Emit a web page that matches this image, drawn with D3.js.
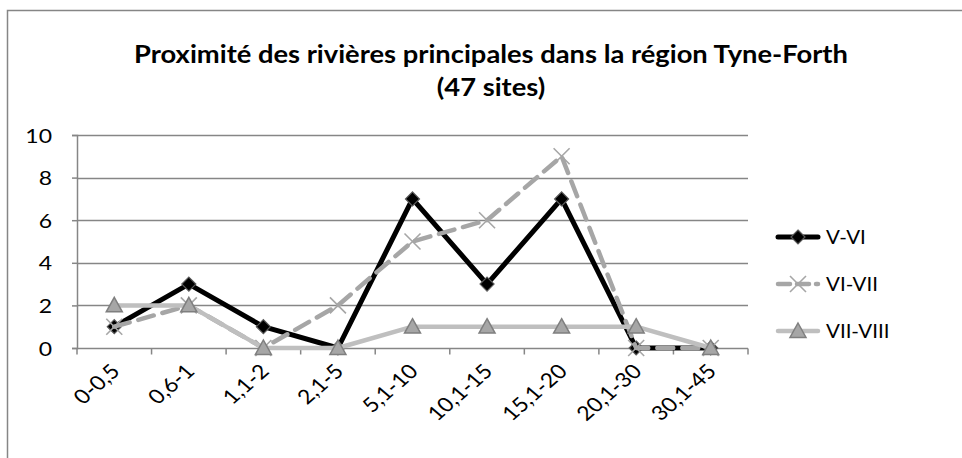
<!DOCTYPE html>
<html>
<head>
<meta charset="utf-8">
<script src="https://cdn.jsdelivr.net/npm/d3@7"></script>
<style>
  html, body { margin: 0; padding: 0; background: #fff; }
  svg { display: block; font-family: Lato, "Open Sans", sans-serif; }
</style>
</head>
<body>
<svg id="chart" width="962" height="458"></svg>
<script>
// Distance classes (km) to the main rivers
const categories = ["0-0,5", "0,6-1", "1,1-2", "2,1-5", "5,1-10", "10,1-15", "15,1-20", "20,1-30", "30,1-45"];
// Number of sites per period
const seriesNames = ["V-VI", "VI-VII", "VII-VIII"];
const valuesVVI = [1, 3, 1, 0, 7, 3, 7, 0, 0];
const valuesVIVII = [1, 2, 0, 2, 5, 6, 9, 0, 0];
const valuesVIIVIII = [2, 2, 0, 0, 1, 1, 1, 1, 0];
const yTicks = [0, 2, 4, 6, 8, 10];
const titleLines = ["Proximité des rivières principales dans la région Tyne-Forth", "(47 sites)"];

const svg = d3.select("#chart");
// the whole chart is drawn slightly widened horizontally
const SX = 1.15;

// outer chart frame (continues past the right and bottom edges)
svg.append("rect")
  .attr("x", 7.5).attr("y", 10.5)
  .attr("width", 1200).attr("height", 800)
  .attr("fill", "#fff").attr("stroke", "#868686").attr("stroke-width", 1.5);

const x = d3.scaleBand().domain(categories).range([77, 748]).paddingInner(0).paddingOuter(0);
const y = d3.scaleLinear().domain([0, 10]).range([348, 135]);

// title
const title = svg.append("g").attr("transform", `translate(491,0) scale(${SX},1)`);
title.selectAll("text").data(titleLines).join("text")
  .attr("x", 0).attr("y", (d, i) => 63 + i * 33)
  .attr("text-anchor", "middle")
  .attr("font-weight", "bold")
  .attr("font-size", 20)
  .attr("fill", "#000")
  .text(d => d);
// size the title so the first line spans its slot
const w0 = title.select("text").node().getComputedTextLength();
title.selectAll("text").attr("font-size", 20 * (714 / SX) / w0);

// gridlines
svg.append("g").selectAll("line").data(yTicks.filter(d => d > 0)).join("line")
  .attr("x1", 77).attr("x2", 748)
  .attr("y1", d => Math.round(y(d)) + 0.5).attr("y2", d => Math.round(y(d)) + 0.5)
  .attr("stroke", "#868686").attr("stroke-width", 1.5);

// y axis
const yAxis = svg.append("g")
  .attr("transform", `translate(77,0)`)
  .call(d3.axisLeft(y).tickValues(yTicks).tickSize(5).tickFormat(d3.format("d")));
yAxis.select(".domain").attr("stroke", "#868686").attr("stroke-width", 1.5);
yAxis.selectAll(".tick line").attr("stroke", "#868686").attr("stroke-width", 1.5);
yAxis.selectAll(".tick text")
  .attr("x", 0).attr("dy", "0.35em")
  .attr("transform", `translate(-25,0) scale(${SX},1)`)
  .attr("font-size", 20).attr("fill", "#000")
  .attr("font-family", "Lato, 'Open Sans', sans-serif");

// x axis with ticks on category boundaries
const xAxisG = svg.append("g").attr("transform", `translate(0,${Math.round(y(0)) + 0.5})`);
xAxisG.append("line").attr("x1", 77).attr("x2", 748)
  .attr("stroke", "#868686").attr("stroke-width", 1.5);
const bounds = categories.map(c => x(c)).concat([x(categories[categories.length - 1]) + x.bandwidth()]);
xAxisG.selectAll("line.tk").data(bounds).join("line").attr("class", "tk")
  .attr("x1", d => d).attr("x2", d => d).attr("y1", 0).attr("y2", 6)
  .attr("stroke", "#868686").attr("stroke-width", 1.5);
xAxisG.selectAll("text").data(categories).join("text")
  .attr("transform", d => `translate(${x(d) + x.bandwidth() / 2 + 7},24) scale(${SX},1) rotate(-45)`)
  .attr("text-anchor", "end")
  .attr("font-size", 20)
  .attr("fill", "#000")
  .text(d => d);

const cx = d => x(d) + x.bandwidth() / 2;

const styles = [
  { values: valuesVVI, color: "#000", width: 5, dash: null, marker: "diamond" },
  { values: valuesVIVII, color: "#a6a6a6", width: 4.5, dash: "16,9", marker: "x" },
  { values: valuesVIIVIII, color: "#bfbfbf", width: 4.5, dash: null, marker: "triangle" }
];

function drawMarker(g, kind, px, py) {
  if (kind === "diamond") {
    const s = 7;
    g.append("path")
      .attr("d", `M${px},${py - s}L${px + s},${py}L${px},${py + s}L${px - s},${py}Z`)
      .attr("fill", "#000").attr("stroke", "#595959").attr("stroke-width", 1.2);
  } else if (kind === "x") {
    const s = 8;
    g.append("path")
      .attr("d", `M${px - s},${py - s}L${px + s},${py + s}M${px - s},${py + s}L${px + s},${py - s}`)
      .attr("stroke", "#a6a6a6").attr("stroke-width", 1.6).attr("fill", "none");
  } else {
    const s = 8;
    g.append("path")
      .attr("d", `M${px},${py - s}L${px + s},${py + s * 0.8}L${px - s},${py + s * 0.8}Z`)
      .attr("fill", "#a6a6a6").attr("stroke", "#7f7f7f").attr("stroke-width", 1.5);
  }
}

const line = d3.line().x((d, i) => cx(categories[i])).y(d => y(d));

styles.forEach(s => {
  const g = svg.append("g");
  g.append("path").datum(s.values)
    .attr("d", line)
    .attr("fill", "none")
    .attr("stroke", s.color).attr("stroke-width", s.width)
    .attr("stroke-linejoin", "round").attr("stroke-linecap", "round")
    .attr("stroke-dasharray", s.dash);
  s.values.forEach((v, i) => drawMarker(g, s.marker, cx(categories[i]), y(v)));
});

// legend
const legend = svg.append("g");
styles.forEach((s, i) => {
  const ly = 237 + i * 47;
  legend.append("line")
    .attr("x1", 778).attr("x2", 818).attr("y1", ly).attr("y2", ly)
    .attr("stroke", s.color).attr("stroke-width", s.width)
    .attr("stroke-linecap", "round")
    .attr("stroke-dasharray", s.dash ? "12,7" : null);
  drawMarker(legend, s.marker, 798, ly);
  legend.append("text")
    .attr("transform", `translate(826,${ly + 6.5}) scale(1.08,1)`)
    .attr("font-size", 19).attr("fill", "#000")
    .text(seriesNames[i]);
});
</script>
</body>
</html>
